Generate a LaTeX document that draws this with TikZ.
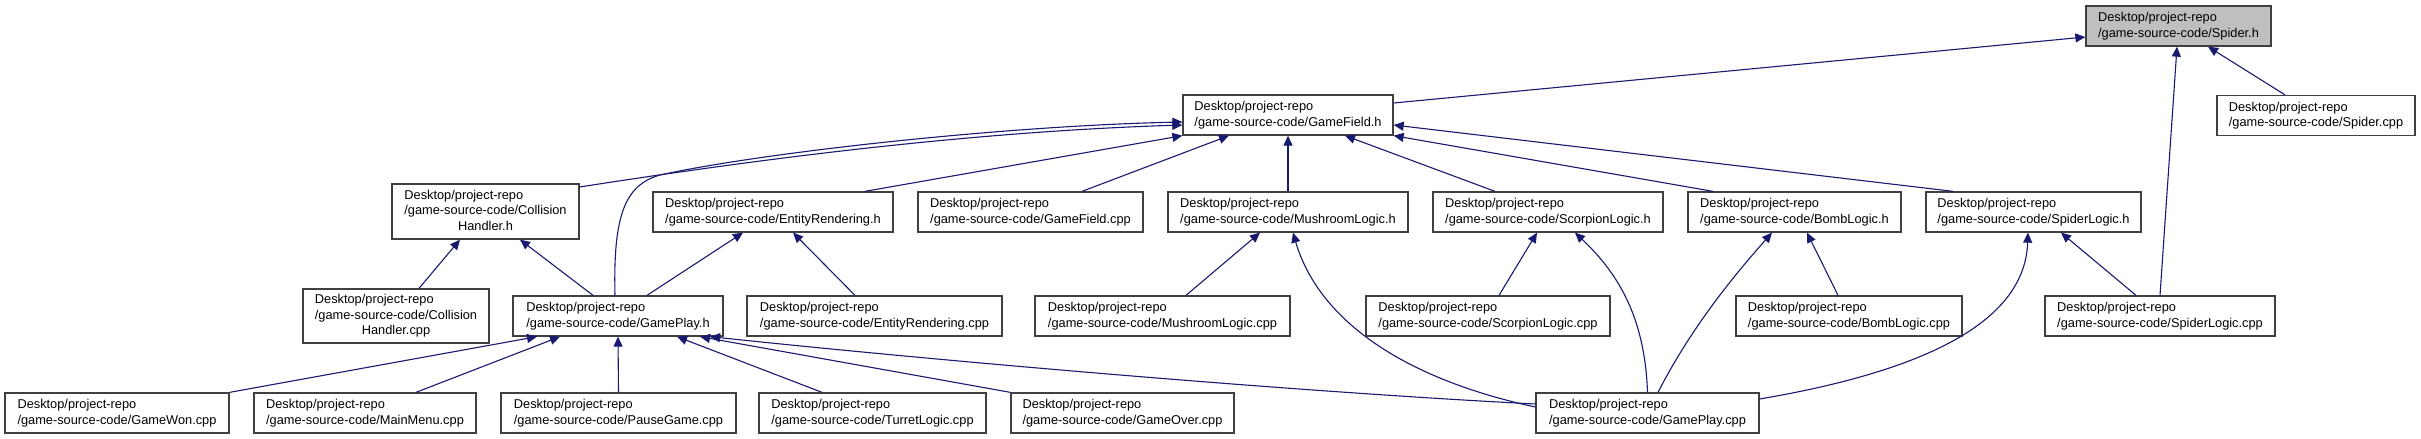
\documentclass[tikz,border=0pt]{standalone}
\usepackage{fontspec}
\setmainfont{Liberation Sans}
\usetikzlibrary{arrows.meta}
\definecolor{edgeblue}{HTML}{191970}
\definecolor{boxline}{HTML}{404040}
\definecolor{graybox}{HTML}{BFBFBF}
\tikzset{
  file/.style={draw=boxline, line width=1.3pt, fill=white, inner sep=0pt, align=left,
    minimum height=40pt, font=\fontsize{12.8}{15.5}\selectfont},
  inc/.style={draw=edgeblue, line width=1.1pt, -{Triangle[length=10pt,width=9pt]}}
}
\newcommand{\fp}[1]{Desktop/project-repo\\/game-source-code/#1}
\begin{document}
\begin{tikzpicture}[x=1pt,y=-1pt]
\useasboundingbox (0,0) rectangle (2421,439);
% row 1
\node[file, fill=graybox, minimum width=185pt] (spiderh) at (2178.5,26) {\fp{Spider.h}};
% row 2
\node[file, minimum width=210pt] (gamefieldh) at (1288,115) {\fp{GameField.h}};
\node[file, minimum width=198pt] (spidercpp) at (2316,115.5) {\fp{Spider.cpp}};
% row 3
\node[file, minimum width=187pt, minimum height=55pt] (collh) at (485.5,211.5)
  {\begin{tabular}{@{}l@{}}Desktop/project-repo\\/game-source-code/Collision\\\multicolumn{1}{@{}c@{}}{Handler.h}\end{tabular}};
\node[file, minimum width=240pt] (entityh) at (773,212) {\fp{EntityRendering.h}};
\node[file, minimum width=225pt] (gamefieldcpp) at (1030.5,212) {\fp{GameField.cpp}};
\node[file, minimum width=240pt] (mushh) at (1288,212) {\fp{MushroomLogic.h}};
\node[file, minimum width=230pt] (scorph) at (1548,212) {\fp{ScorpionLogic.h}};
\node[file, minimum width=213pt] (bombh) at (1794.5,212) {\fp{BombLogic.h}};
\node[file, minimum width=215pt] (spiderlh) at (2033.5,212) {\fp{SpiderLogic.h}};
% row 4
\node[file, minimum width=186pt, minimum height=54pt] (collcpp) at (396,316)
  {\begin{tabular}{@{}l@{}}Desktop/project-repo\\/game-source-code/Collision\\\multicolumn{1}{@{}c@{}}{Handler.cpp}\end{tabular}};
\node[file, minimum width=210pt] (gameplayh) at (618,316) {\fp{GamePlay.h}};
\node[file, minimum width=255pt] (entitycpp) at (874.5,316) {\fp{EntityRendering.cpp}};
\node[file, minimum width=255pt] (mushcpp) at (1162.5,316) {\fp{MushroomLogic.cpp}};
\node[file, minimum width=244pt] (scorpcpp) at (1488,316) {\fp{ScorpionLogic.cpp}};
\node[file, minimum width=226pt] (bombcpp) at (1849,316) {\fp{BombLogic.cpp}};
\node[file, minimum width=230pt] (spiderlcpp) at (2160,316) {\fp{SpiderLogic.cpp}};
% row 5
\node[file, minimum width=224pt] (gamewon) at (117,413) {\fp{GameWon.cpp}};
\node[file, minimum width=222pt] (mainmenu) at (365,413) {\fp{MainMenu.cpp}};
\node[file, minimum width=235pt] (pausegame) at (618.5,413) {\fp{PauseGame.cpp}};
\node[file, minimum width=227pt] (turret) at (872.5,413) {\fp{TurretLogic.cpp}};
\node[file, minimum width=223pt] (gameover) at (1122.5,413) {\fp{GameOver.cpp}};
\node[file, minimum width=223pt] (gameplaycpp) at (1647.5,413) {\fp{GamePlay.cpp}};
% edges into Spider.h
\draw[inc] ([yshift=12pt]gamefieldh.east) -- ([yshift=-11pt]spiderh.west);
\draw[inc] ([xshift=-31pt]spidercpp.north) -- ([xshift=29.5pt]spiderh.south);
\draw[inc] (spiderlcpp.north) -- ([xshift=-1.5pt]spiderh.south);
% edges into GameField.h
\draw[inc] ([yshift=24.5pt]collh.east) .. controls (740,162) and (960,132) .. ([yshift=-10pt]gamefieldh.west);
\draw[inc] ([xshift=-3pt]gameplayh.north) .. controls (613,215) and (625,185) .. (660,175)
  .. controls (760,153) and (1000,126) .. ([yshift=-7pt]gamefieldh.west);
\draw[inc] ([xshift=92pt]entityh.north) -- (gamefieldh.south west);
\draw[inc] ([xshift=51.5pt]gamefieldcpp.north) -- ([xshift=-59pt]gamefieldh.south);
\draw[inc] (mushh.north) -- (gamefieldh.south);
\draw[inc] ([xshift=-53pt]scorph.north) -- ([xshift=57pt]gamefieldh.south);
\draw[inc] ([xshift=-81.5pt]bombh.north) -- (gamefieldh.south east);
\draw[inc] ([xshift=-80.5pt]spiderlh.north) -- ([yshift=-10pt]gamefieldh.east);
% row 3 targets
\draw[inc] ([xshift=23pt]collcpp.north) -- ([xshift=-25.5pt]collh.south);
\draw[inc] ([xshift=-25pt]gameplayh.north) -- ([xshift=34.5pt]collh.south);
\draw[inc] ([xshift=29pt]gameplayh.north) -- ([xshift=-30pt]entityh.south);
\draw[inc] ([xshift=-19.5pt]entitycpp.north) -- ([xshift=20pt]entityh.south);
\draw[inc] ([xshift=23.5pt]mushcpp.north) -- ([xshift=-28pt]mushh.south);
\draw[inc] ([yshift=6pt]gameplaycpp.west) .. controls (1400,378) and (1318,318) .. ([xshift=5pt]mushh.south);
\draw[inc] ([xshift=11pt]scorpcpp.north) -- ([xshift=-11pt]scorph.south);
\draw[inc] (gameplaycpp.north) .. controls (1645,320) and (1620,275) .. ([xshift=27pt]scorph.south);
\draw[inc] ([xshift=-11pt]bombcpp.north) -- ([xshift=12.5pt]bombh.south);
\draw[inc] ([xshift=10.5pt]gameplaycpp.north) .. controls (1690,330) and (1730,280) .. ([xshift=-22.5pt]bombh.south);
\draw[inc] ([xshift=-24pt]spiderlcpp.north) -- ([xshift=27.5pt]spiderlh.south);
\draw[inc] ([yshift=14pt]gameplaycpp.east) .. controls (1930,370) and (2025,320) .. ([xshift=-5.5pt]spiderlh.south);
% into GamePlay.h
\draw[inc] (gamewon.north east) -- ([xshift=-81pt]gameplayh.south);
\draw[inc] ([xshift=51pt]mainmenu.north) -- ([xshift=-58pt]gameplayh.south);
\draw[inc] (pausegame.north) -- (gameplayh.south);
\draw[inc] ([xshift=-50.5pt]turret.north) -- ([xshift=59pt]gameplayh.south);
\draw[inc] (gameover.north west) -- ([xshift=82pt]gameplayh.south);
\draw[inc] ([yshift=9pt]gameplaycpp.west) .. controls (1300,392) and (950,362) .. ([xshift=92pt]gameplayh.south);
\end{tikzpicture}
\end{document}
